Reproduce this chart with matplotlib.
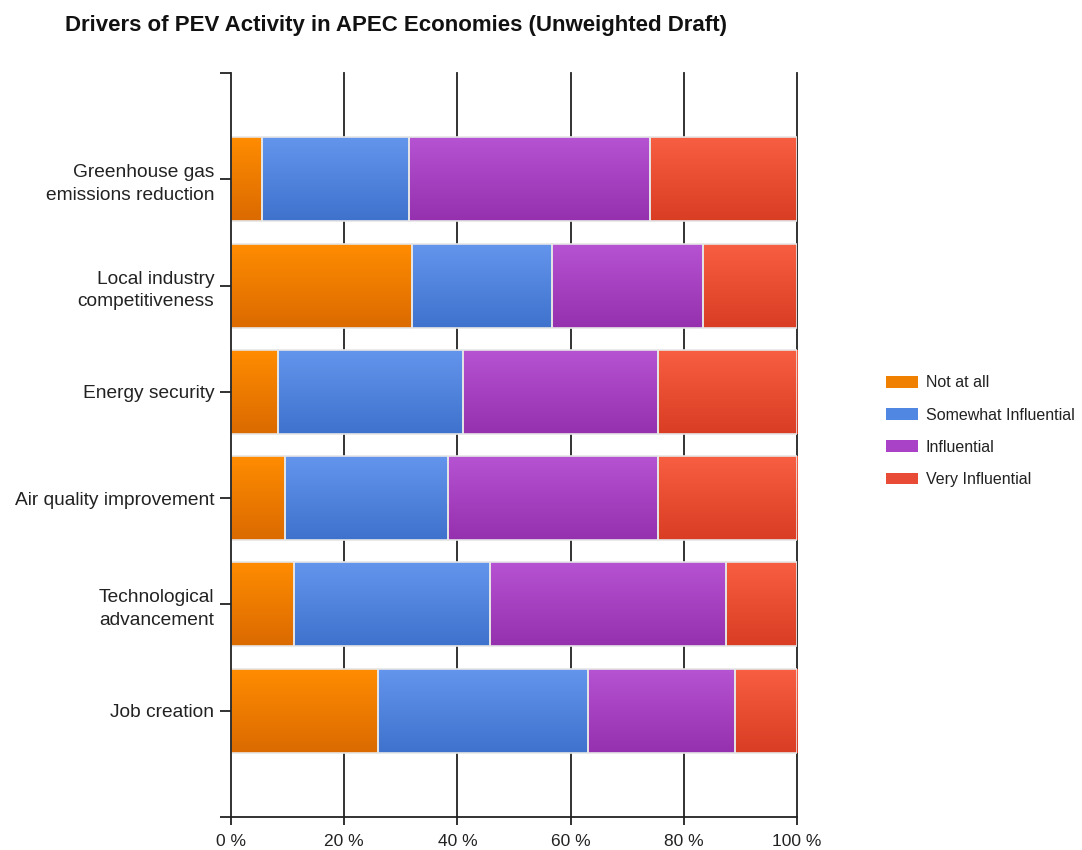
import numpy as np
import matplotlib
matplotlib.use("Agg")
import matplotlib.pyplot as plt
from matplotlib.patches import Patch

# Survey categories (top to bottom) and response shares in percent
categories = [
    "Greenhouse gas\nemissions reduction",
    "Local industry\ncompetitiveness",
    "Energy security",
    "Air quality improvement",
    "Technological\nadvancement",
    "Job creation",
]
not_at_all = [5.4, 32.0, 8.3, 9.6, 11.1, 26.0]
somewhat_influential = [26.0, 24.8, 32.7, 28.8, 34.7, 37.0]
influential = [42.7, 26.6, 34.4, 37.0, 41.7, 26.0]
very_influential = [25.9, 16.6, 24.6, 24.6, 12.5, 11.0]

series_names = ["Not at all", "Somewhat Influential", "Influential", "Very Influential"]
series_values = [not_at_all, somewhat_influential, influential, very_influential]
x_ticks = [0, 20, 40, 60, 80, 100]
x_tick_labels = ["0 %", "20 %", "40 %", "60 %", "80 %", "100 %"]

# gradient colours (top, bottom) and legend swatch colour per series
grad_top = ["#ff8c00", "#6495ed", "#b653d2", "#f85e42"]
grad_bottom = ["#db6a00", "#3e72cc", "#9530ae", "#d93d23"]
swatch = ["#f08000", "#5087e2", "#a942c6", "#e94c36"]

plt.rcParams["font.family"] = ["Liberation Sans", "DejaVu Sans"]

fig = plt.figure(figsize=(10.82, 8.5), dpi=100)
ax = fig.add_axes([231 / 1082, 33 / 850, 566 / 1082, 744 / 850])

positions = np.arange(1, len(categories) + 1)
bar_h = 0.79

left = np.zeros(len(categories))
for i, vals in enumerate(series_values):
    vals = np.asarray(vals, dtype=float)
    ax.barh(positions, vals, left=left, height=bar_h, color=swatch[i],
            edgecolor="none", zorder=2)
    # vertical colour ramp on each segment
    c0 = np.array(matplotlib.colors.to_rgb(grad_top[i]))
    c1 = np.array(matplotlib.colors.to_rgb(grad_bottom[i]))
    t = np.linspace(0, 1, 64)[:, None]
    grad = (c0 * (1 - t) + c1 * t)[:, None, :]
    for y, l, w in zip(positions, left, vals):
        ax.imshow(grad, extent=(l, l + w, y + bar_h / 2, y - bar_h / 2),
                  aspect="auto", origin="upper", zorder=2.5, interpolation="bilinear")
    ax.barh(positions, vals, left=left, height=bar_h, facecolor="none",
            edgecolor="#e6e6e6", linewidth=1.2, zorder=3)
    left += vals

# axes setup
ax.set_xlim(0, 100)
ax.set_ylim(len(categories) + 1, 0)
ax.set_xticks(x_ticks)
ax.set_xticklabels(x_tick_labels, fontsize=12.5, color="#222222")
ax.set_yticks(np.arange(0, len(categories) + 2))
ax.set_yticklabels([""] + categories + [""], fontsize=13.8, color="#222222",
                   linespacing=1.45)
ax.tick_params(axis="both", direction="out", length=8, width=1.3, color="#222222",
               pad=4)
ax.tick_params(axis="x", length=6, pad=6)

for x in x_ticks[1:]:
    ax.axvline(x, color="#222222", linewidth=1.3, zorder=1, clip_on=False)

for side in ["top", "right"]:
    ax.spines[side].set_visible(False)
for side in ["left", "bottom"]:
    ax.spines[side].set_color("#222222")
    ax.spines[side].set_linewidth(1.3)
    ax.spines[side].set_zorder(4)

# title
fig.text(65 / 1082, 1 - 26 / 850, "Drivers of PEV Activity in APEC Economies (Unweighted Draft)",
         fontsize=16, fontweight="bold", ha="left", va="center", color="#111111")

# legend
handles = [Patch(facecolor=swatch[i], edgecolor="none") for i in range(4)]
fig.legend(handles, series_names, loc="upper left",
           bbox_to_anchor=(872 / 1082, 1 - 361 / 850), frameon=False,
           fontsize=11.5, handlelength=2.0, handleheight=0.75, handletextpad=0.45,
           labelspacing=1.08, labelcolor="#222222")

fig.savefig("out.png", dpi=100, facecolor="white")
